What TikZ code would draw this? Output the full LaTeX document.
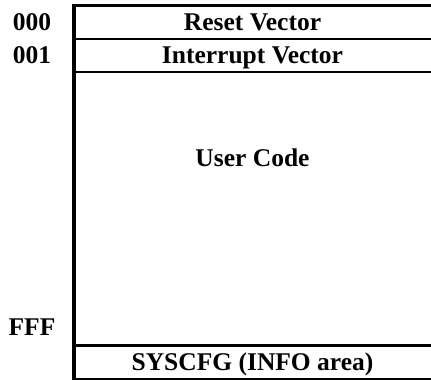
\documentclass[tikz,border=0pt]{standalone}
\usepackage{fontspec}
\setmainfont{Liberation Serif}
\usepackage{tikz}

\begin{document}
\begin{tikzpicture}[x=1pt,y=-1pt]
            \tikzset{cell/.style = {font=\fontsize{25.5}{30}\selectfont\bfseries, anchor=base, inner sep=0pt}}
            \tikzset{addr/.style = {cell}}
            \tikzset{thickrule/.style = {line width=3.5pt}}
            \tikzset{thinrule/.style = {line width=2pt}}
            \useasboundingbox (0,0) rectangle (431,380);

            % address column
            \node[addr] (a000) at (32,30.5) {000};
            \node[addr] (a001) at (32,63.5) {001};
            \node[addr] (afff) at (32,335) {FFF};

            % memory map
            \node[cell] (reset) at (252.5,30.5) {Reset Vector};
            \node[cell] (intr) at (252.5,63.5) {Interrupt Vector};
            \node[cell] (user) at (252.5,166) {User Code};
            \node[cell] (syscfg) at (252.5,370) {SYSCFG (INFO area)};

            \draw[thickrule] (74,4) -- (74,380);
            \draw[thickrule] (72.25,5.5) -- (431,5.5);
            \draw[thinrule] (74,39) -- (431,39);
            \draw[thinrule] (74,72) -- (431,72);
            \draw[thickrule] (74,345.5) -- (431,345.5);
            \draw[thinrule] (74,378.5) -- (431,378.5);
        \end{tikzpicture}
\end{document}
